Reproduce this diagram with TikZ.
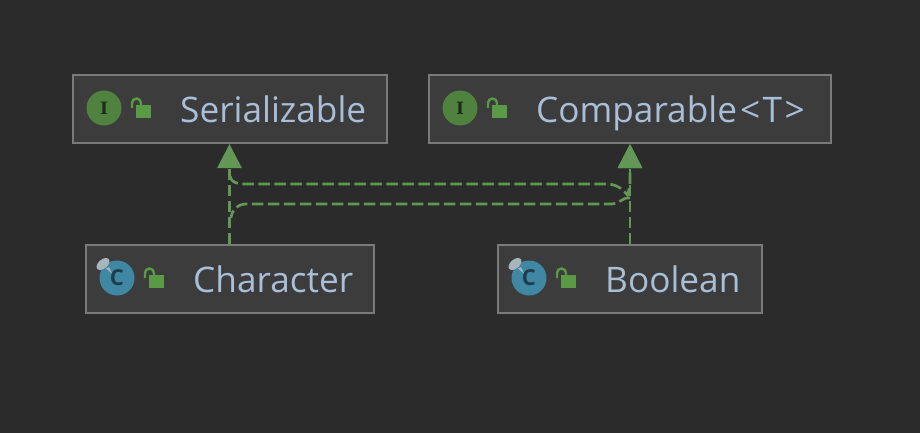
\documentclass[tikz,border=0pt]{standalone}
\usepackage{fontspec}
\setmainfont{Open Sans}
\newfontfamily\iconserif{DejaVu Serif}
\usetikzlibrary{arrows.meta}
\definecolor{bgc}{HTML}{2B2B2B}
\definecolor{boxc}{HTML}{3C3C3C}
\definecolor{edgec}{HTML}{7A7A7A}
\definecolor{txtc}{HTML}{A9BFD8}
\definecolor{arrc}{HTML}{629755}
\definecolor{ifacec}{HTML}{4F813F}
\definecolor{classc}{HTML}{3F87A3}
\definecolor{lockc}{HTML}{5A9A45}
\definecolor{pinc}{HTML}{A9B4BC}
\tikzset{
  umlbox/.style={draw=edgec,fill=boxc,line width=2pt,minimum height=68pt,inner sep=0pt},
  label/.style={text=txtc,anchor=base west,inner sep=0pt,font=\fontsize{35.2}{36}\selectfont},
  relline/.style={draw=arrc,line width=2.7pt,dash pattern=on 11.5pt off 4.5pt},
  rel/.style={relline,-{Triangle[width=24pt,length=24pt,fill=arrc,sharp]}},
  badge/.style={circle,minimum size=35pt,inner sep=0pt},
  iface/.style={badge,fill=ifacec,text=black!65!ifacec,font=\iconserif\bfseries\fontsize{17}{17}\selectfont},
  klass/.style={badge,fill=classc,text=black!55!classc,font=\bfseries\fontsize{22}{22}\selectfont},
  lockbody/.style={fill=lockc},
  lockarc/.style={draw=lockc,line width=2.4pt},
  pin/.style={fill=pinc}
}
\newcommand{\lockicon}[2]{%
  \fill[lockbody] (#1+32,#2-3) rectangle (#1+47,#2+10);
  \draw[lockarc] (#1+28,#2+0) -- (#1+28,#2-5) arc[start angle=180,end angle=0,radius=4.5pt] -- (#1+37,#2-3);
}
\newcommand{\pinicon}[2]{%
  \fill[pin,rotate around={40:(#1-14,#2-14)}] (#1-14,#2-14) ellipse[x radius=7.5,y radius=4.5];
  \fill[pin] (#1-11,#2-9.5) -- (#1-5,#2-4.5) -- (#1-8,#2-11) -- cycle;
}
\begin{document}
\begin{tikzpicture}[x=1pt,y=-1pt]
\path[use as bounding box,fill=bgc] (0,0) rectangle (920,433);

\node[umlbox,minimum width=314pt] (ser) at (229.5,109) {};
\node[umlbox,minimum width=402pt] (com) at (630,109) {};
\node[umlbox,minimum width=288pt] (chr) at (229.5,279) {};
\node[umlbox,minimum width=264pt] (boo) at (630,279) {};

\node[label] (serl) at (180,122) {Serializable};
\node[label] (coml) at (536,122) {Comparable\kern3pt<\kern2.5ptT\kern2.5pt>};
\node[label] (chrl) at (193,292) {Character};
\node[label] (bool) at (605,292) {Boolean};

\node[iface] (seri) at (104,108) {I};
\node[iface] (comi) at (460,108) {I};
\node[klass] (chri) at (117,278) {C};
\node[klass] (booi) at (529,278) {C};
\pinicon{117}{278}
\pinicon{529}{278}
\lockicon{104}{108}
\lockicon{460}{108}
\lockicon{117}{278}
\lockicon{529}{278}

\coordinate (u1) at (230,176);
\coordinate (u2) at (252,184);
\coordinate (u3) at (606,184);
\coordinate (u4) at (627.5,195);
\coordinate (u5) at (630,186);
\coordinate (l1) at (630,198);
\coordinate (l2) at (612,204);
\coordinate (l3) at (246,204);
\coordinate (l4) at (231,218);

\draw[rel] (chr.north) -- (ser.south);
\draw[rel] (boo.north) -- (com.south);
\draw[rel] (u1) to[out=-80,in=180] (u2) -- (u3) to[out=0,in=130] (u4) -- (u5) -- (com.south);
\draw[relline] (l1) to[out=170,in=0] (l2) -- (l3) to[out=180,in=85] (l4);
\end{tikzpicture}
\end{document}
